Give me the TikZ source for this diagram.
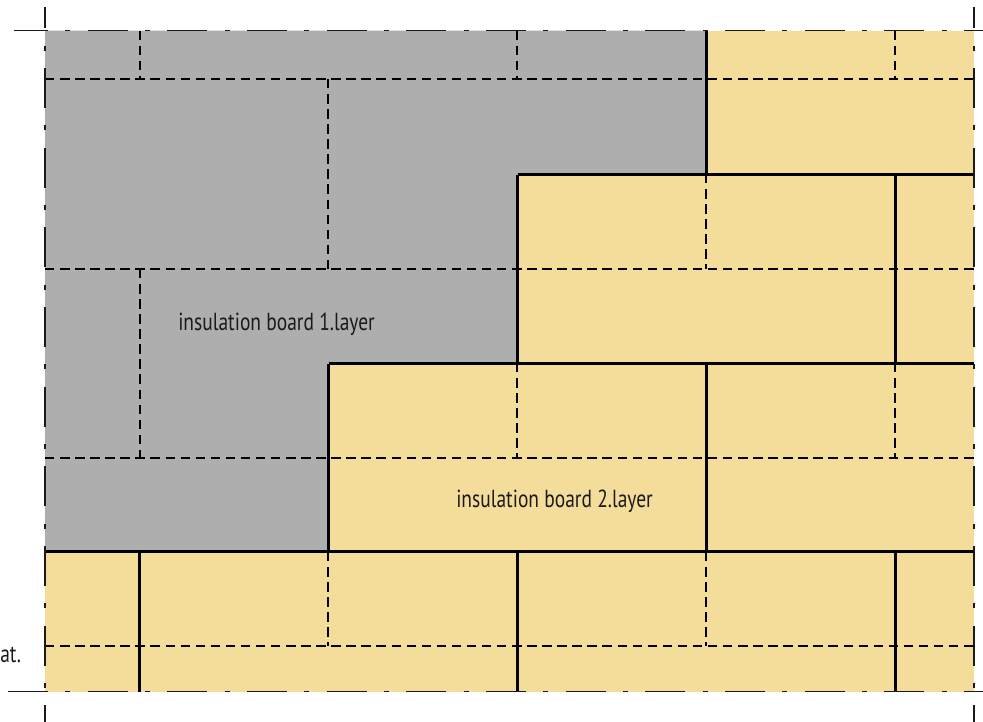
\documentclass[tikz,border=0pt]{standalone}
\usepackage{graphicx}
\usepackage{fontspec}
\setmainfont{PT Sans}
\definecolor{boardgrey}{HTML}{AEAEAE}
\definecolor{boardyellow}{HTML}{F4DC9B}
\definecolor{inkdark}{HTML}{1A1A1A}
\tikzset{
  joint/.style={line width=2pt,black,line cap=butt},
  hidden/.style={line width=1.05pt,black,dash pattern=on 7.1pt off 4.2pt},
  cutline/.style={line width=0.95pt,draw=inkdark,dash pattern=on 30pt off 13pt on 3.75pt off 13pt},
  label/.style={inner sep=0pt,text=inkdark,font=\fontsize{18.5}{20}\selectfont}
}
\begin{document}
\begin{tikzpicture}[x=0.75pt,y=-0.75pt]
\useasboundingbox (0,0) rectangle (983,722);
\clip (0,0) rectangle (983,722);
% boards
\fill[boardyellow] (45,30.5) rectangle (974,691.5);
\fill[boardgrey] (45,30.5) -- (706.5,30.5) -- (706.5,174.5) -- (517.5,174.5) -- (517.5,363.5) -- (328.5,363.5) -- (328.5,551.5) -- (45,551.5) -- cycle;
% hidden joints
\foreach \yy in {79,269,458,646} \draw[hidden] (45,\yy) -- (974,\yy);
\draw[hidden] (140,30.5) -- (140,79);
\draw[hidden] (517,30.5) -- (517,79);
\draw[hidden] (895,30.5) -- (895,79);
\draw[hidden] (328,79) -- (328,269);
\draw[hidden] (706,174) -- (706,269);
\draw[hidden] (140,269) -- (140,458);
\draw[hidden] (517,363) -- (517,458);
\draw[hidden] (895,363) -- (895,458);
\draw[hidden] (328,552) -- (328,646);
\draw[hidden] (706,552) -- (706,646);
% visible joints
\draw[joint] (706.5,30.5) -- (706.5,174.5) (517.5,174.5) -- (974,174.5);
\draw[joint] (517.5,174.5) -- (517.5,363.5) (328.5,363.5) -- (974,363.5);
\draw[joint] (895.5,174.5) -- (895.5,363.5);
\draw[joint] (328.5,363.5) -- (328.5,551.5) (45,551.5) -- (974,551.5);
\draw[joint] (706.5,363.5) -- (706.5,551.5);
\draw[joint] (139.5,551.5) -- (139.5,691.5);
\draw[joint] (517.5,551.5) -- (517.5,691.5);
\draw[joint] (895.5,551.5) -- (895.5,691.5);
% cut frame
\draw[cutline,dash phase=4.5pt] (14,30.5) -- (983,30.5);
\draw[cutline] (8,691.5) -- (983,691.5);
\draw[cutline,dash phase=14pt] (45,7) -- (45,722);
\draw[cutline,dash phase=14pt] (974,7) -- (974,722);
% labels
\node[label,anchor=base west] (layerone) at (178,330) {\scalebox{0.79}[1]{insulation board 1.layer}};
\node[label,anchor=base west] (layertwo) at (456,507) {\scalebox{0.79}[1]{insulation board 2.layer}};
\node[label,anchor=base west] (clipped) at (0,662) {\scalebox{0.79}[1]{at.}};
\end{tikzpicture}
\end{document}
